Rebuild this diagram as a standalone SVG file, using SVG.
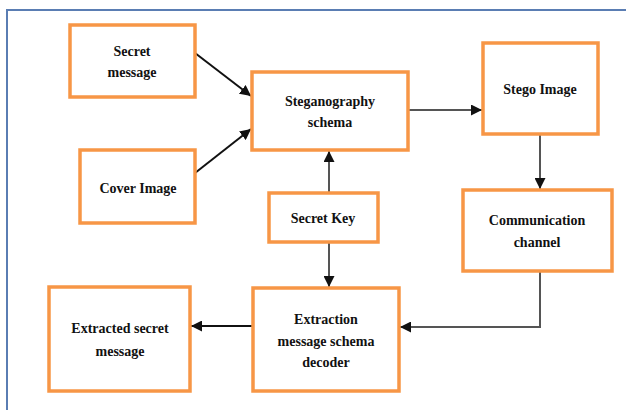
<svg xmlns="http://www.w3.org/2000/svg" width="626" height="410" viewBox="0 0 626 410">
<style>
.box{fill:#fff;stroke:#f79646;stroke-width:3.5}
.t{font-family:"Liberation Serif","DejaVu Serif","Times New Roman",serif;font-weight:bold;font-size:14px;fill:#111;text-anchor:middle}
.c{fill:none;stroke-width:2}
.k{stroke:#111}
.g{stroke:#555}
</style>
<defs>
<marker id="ak" viewBox="0 0 10 10" refX="10" refY="5" markerWidth="5.5" markerHeight="5.5" orient="auto" markerUnits="strokeWidth"><path d="M0,0 L10,5 L0,10 z" fill="#111"/></marker>
<marker id="ag" viewBox="0 0 10 10" refX="10" refY="5" markerWidth="5.5" markerHeight="5.5" orient="auto" markerUnits="strokeWidth"><path d="M0,0 L10,5 L0,10 z" fill="#111"/></marker>
</defs>
<rect width="626" height="410" fill="#fff"/>
<path d="M7,410 V10 H626" fill="none" stroke="#5a7db3" stroke-width="2"/>
<g id="connectors">
<line class="c k" x1="195" y1="53" x2="251" y2="96" marker-end="url(#ak)"/>
<line class="c k" x1="195" y1="173" x2="251" y2="129" marker-end="url(#ak)"/>
<line class="c g" x1="408" y1="110" x2="482" y2="110" marker-end="url(#ag)"/>
<line class="c g" x1="540" y1="135" x2="540" y2="189" marker-end="url(#ag)"/>
<line class="c g" x1="329" y1="193" x2="329" y2="151" marker-end="url(#ag)"/>
<line class="c g" x1="329" y1="242" x2="329" y2="287" marker-end="url(#ag)"/>
<polyline class="c g" points="540,271 540,327 400,327" marker-end="url(#ag)"/>
<line class="c k" x1="253" y1="326" x2="191" y2="326" marker-end="url(#ak)"/>
</g>
<g id="secret-message"><rect class="box" x="70" y="25" width="125" height="72"/><text class="t" x="132" y="56">Secret</text><text class="t" x="132" y="77">message</text></g>
<g id="cover-image"><rect class="box" x="80" y="150" width="115" height="73"/><text class="t" x="138" y="193">Cover Image</text></g>
<g id="steganography-schema"><rect class="box" x="252" y="72" width="156" height="78"/><text class="t" x="330" y="106">Steganography</text><text class="t" x="330" y="127">schema</text></g>
<g id="stego-image"><rect class="box" x="483" y="43" width="115" height="91"/><text class="t" x="540" y="94">Stego Image</text></g>
<g id="communication-channel"><rect class="box" x="463" y="190" width="149" height="81"/><text class="t" x="537" y="225">Communication</text><text class="t" x="537" y="247">channel</text></g>
<g id="secret-key"><rect class="box" x="269" y="193" width="109" height="49"/><text class="t" x="323" y="223">Secret Key</text></g>
<g id="extraction-decoder"><rect class="box" x="253" y="288" width="146" height="103"/><text class="t" x="326" y="324">Extraction</text><text class="t" x="326" y="346">message schema</text><text class="t" x="326" y="367">decoder</text></g>
<g id="extracted-secret-message"><rect class="box" x="49" y="287" width="141" height="104"/><text class="t" x="120" y="333">Extracted secret</text><text class="t" x="120" y="356">message</text></g>
</svg>
